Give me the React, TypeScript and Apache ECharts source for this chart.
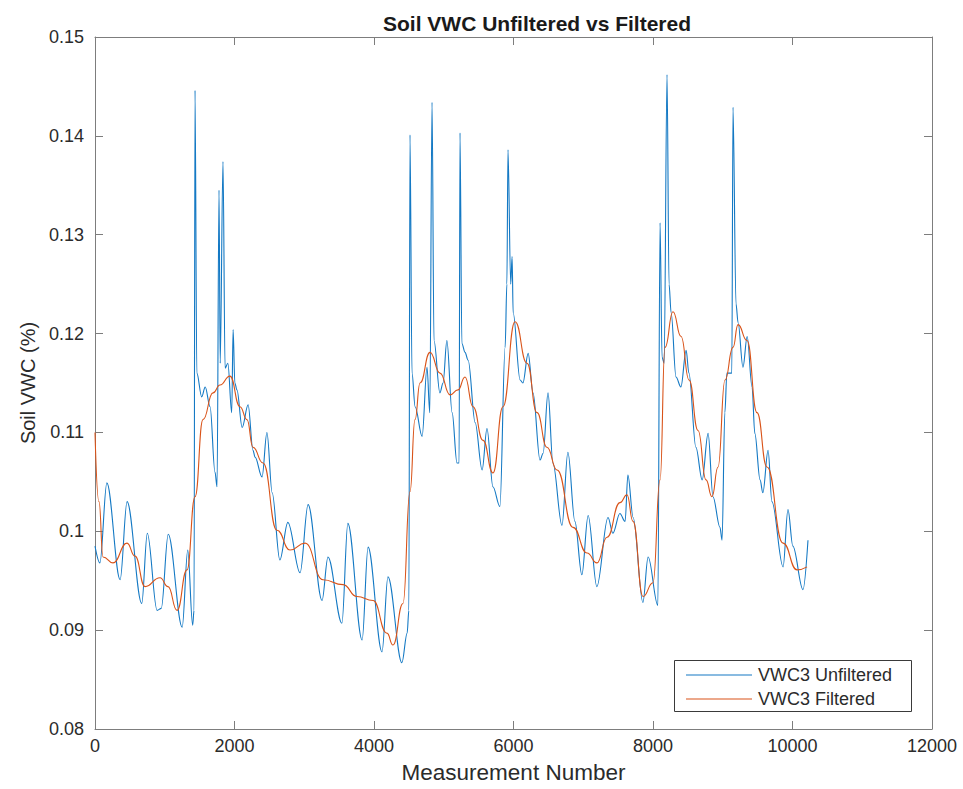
import { useEffect, useRef } from "react";
import * as echarts from "echarts";

// Soil volumetric water content, sensor VWC3: raw readings vs low-pass filtered
const unfiltered: [number, number][] = [
  [0, 0.0985], [70, 0.0968], [170, 0.1049], [360, 0.0951], [460, 0.103],
  [670, 0.0927], [750, 0.0998], [890, 0.092], [950, 0.0922], [1050, 0.0997],
  [1250, 0.0903], [1330, 0.0981], [1400, 0.0905], [1420, 0.092], [1434, 0.1446],
  [1460, 0.116], [1530, 0.1136], [1580, 0.1146], [1650, 0.1126], [1720, 0.106],
  [1750, 0.1045], [1778, 0.1345], [1795, 0.117], [1835, 0.1374], [1865, 0.1165],
  [1905, 0.117], [1960, 0.112], [1980, 0.1204], [2005, 0.115], [2035, 0.1143],
  [2110, 0.1105], [2195, 0.1128], [2265, 0.1082], [2295, 0.1075], [2395, 0.1055],
  [2465, 0.11], [2540, 0.1039], [2650, 0.0971], [2765, 0.1009], [2940, 0.0958],
  [3055, 0.1027], [3255, 0.093], [3340, 0.0974], [3540, 0.0907], [3625, 0.1008],
  [3830, 0.089], [3915, 0.0984], [4115, 0.0878], [4200, 0.0954], [4400, 0.0867],
  [4475, 0.0897], [4500, 0.092], [4516, 0.1401], [4545, 0.116], [4590, 0.1126],
  [4690, 0.1096], [4760, 0.1166], [4800, 0.112], [4832, 0.1434], [4860, 0.1193],
  [4945, 0.114], [4990, 0.115], [5045, 0.1193], [5120, 0.112], [5190, 0.1069],
  [5220, 0.1069], [5233, 0.1403], [5260, 0.119], [5305, 0.1181], [5350, 0.1173],
  [5450, 0.111], [5550, 0.1062], [5620, 0.1104], [5705, 0.1045], [5805, 0.1025],
  [5880, 0.1186], [5905, 0.125], [5921, 0.1386], [5960, 0.125], [5980, 0.1278],
  [5995, 0.1221], [6095, 0.1153], [6135, 0.115], [6210, 0.118], [6280, 0.114],
  [6380, 0.1072], [6425, 0.1079], [6495, 0.114], [6565, 0.1069], [6695, 0.1006],
  [6780, 0.108], [6880, 0.101], [6980, 0.0956], [7070, 0.1016], [7195, 0.0944],
  [7355, 0.1014], [7425, 0.0998], [7525, 0.1018], [7600, 0.101], [7640, 0.1057],
  [7715, 0.1014], [7855, 0.0928], [7930, 0.0974], [8070, 0.0925], [8101, 0.1312],
  [8130, 0.1176], [8160, 0.117], [8201, 0.1462], [8230, 0.125], [8260, 0.1221],
  [8330, 0.1156], [8400, 0.1146], [8475, 0.1183], [8515, 0.116], [8615, 0.1085],
  [8705, 0.1052], [8790, 0.1099], [8860, 0.1035], [8960, 0.1004], [8990, 0.0991],
  [9030, 0.112], [9060, 0.116], [9130, 0.116], [9147, 0.1429], [9190, 0.123],
  [9220, 0.1211], [9290, 0.1166], [9350, 0.1197], [9420, 0.1146], [9460, 0.1099],
  [9535, 0.1052], [9575, 0.1039], [9650, 0.1082], [9705, 0.103], [9865, 0.0964],
  [9935, 0.1022], [10005, 0.0985], [10150, 0.0941], [10222, 0.0991],
];

const filtered: [number, number][] = [
  [0, 0.11], [57, 0.103], [115, 0.0974], [258, 0.0968], [459, 0.0988],
  [573, 0.0975], [717, 0.0944], [932, 0.0953], [1047, 0.0944], [1176, 0.092],
  [1319, 0.0961], [1434, 0.1035], [1548, 0.1113], [1692, 0.114], [1792, 0.1148],
  [1935, 0.1157], [2079, 0.1126], [2179, 0.1113], [2265, 0.1085], [2409, 0.1069],
  [2609, 0.1001], [2796, 0.0981], [3011, 0.0988], [3269, 0.0951], [3556, 0.0946],
  [3756, 0.0934], [3986, 0.093], [4186, 0.0897], [4272, 0.0885], [4416, 0.0927],
  [4516, 0.104], [4588, 0.1113], [4660, 0.115], [4803, 0.1181], [4946, 0.116],
  [5090, 0.1138], [5204, 0.1143], [5305, 0.1156], [5419, 0.1126], [5563, 0.1092],
  [5706, 0.1059], [5849, 0.1126], [6022, 0.1212], [6194, 0.117], [6337, 0.112],
  [6480, 0.1085], [6624, 0.1062], [6853, 0.1004], [7054, 0.0978], [7197, 0.0968],
  [7341, 0.0994], [7527, 0.1029], [7627, 0.1037], [7713, 0.101], [7857, 0.0934],
  [8000, 0.0948], [8101, 0.1052], [8172, 0.1186], [8287, 0.1222], [8402, 0.1197],
  [8517, 0.1153], [8646, 0.1102], [8760, 0.1052], [8846, 0.1035], [8932, 0.1065],
  [9032, 0.1153], [9147, 0.1186], [9219, 0.1209], [9348, 0.1193], [9491, 0.112],
  [9634, 0.1065], [9864, 0.0988], [10065, 0.0961], [10208, 0.0964],
];

const seriesNames = ["VWC3 Unfiltered", "VWC3 Filtered"];
const xTicks = [0, 2000, 4000, 6000, 8000, 10000, 12000];
const yTicks = [0.08, 0.09, 0.1, 0.11, 0.12, 0.13, 0.14, 0.15];

const FONT = "'Liberation Sans', Arial, Helvetica, sans-serif";
const AXIS_GRAY = "#7d7d7d";
const TEXT = "#2b2b2b";
const BLUE = "#1479c4";
const ORANGE = "#D95319";

export default function App() {
  const ref = useRef<HTMLDivElement>(null);

  useEffect(() => {
    if (!ref.current) return;
    const chart = echarts.init(ref.current, undefined, { renderer: "svg" });

    const xMin = xTicks[0];
    const xMax = xTicks[xTicks.length - 1];
    const xStep = xTicks[1] - xTicks[0];
    const yMin = yTicks[0];
    const yMax = yTicks[yTicks.length - 1];
    const yStep = +(yTicks[1] - yTicks[0]).toFixed(4);

    const boxLine = { show: true, onZero: false, lineStyle: { color: AXIS_GRAY, width: 1 } };
    const inTick = { show: true, inside: true, length: 8, lineStyle: { color: AXIS_GRAY, width: 1 } };

    chart.setOption({
      animation: false,
      backgroundColor: "#ffffff",
      textStyle: { fontFamily: FONT },
      title: {
        text: "Soil VWC Unfiltered vs Filtered",
        left: 532,
        textAlign: "center",
        top: 8,
        textStyle: { fontFamily: FONT, fontSize: 21, fontWeight: "bold", color: "#1a1a1a" },
      },
      grid: { left: 95, right: 31, top: 37, bottom: 59, containLabel: false },
      legend: {
        data: seriesNames.map((name) => ({ name, icon: "rect" })),
        orient: "vertical",
        left: 686,
        top: 666,
        padding: 0,
        itemWidth: 66,
        itemHeight: 1.2,
        itemGap: 6,
        textStyle: { fontFamily: FONT, fontSize: 18, color: TEXT, padding: [0, 0, 0, 1] },
      },
      xAxis: [
        {
          type: "value",
          min: xMin,
          max: xMax,
          interval: xStep,
          name: "Measurement Number",
          nameLocation: "middle",
          nameGap: 32,
          nameTextStyle: { fontFamily: FONT, fontSize: 22.5, color: TEXT },
          axisLine: boxLine,
          axisTick: inTick,
          axisLabel: {
            margin: 8,
            fontFamily: FONT,
            fontSize: 18,
            color: TEXT,
            formatter: (v: number) => String(v),
          },
          splitLine: { show: false },
        },
        {
          type: "value",
          position: "top",
          min: xMin,
          max: xMax,
          interval: xStep,
          axisLine: boxLine,
          axisTick: inTick,
          axisLabel: { show: false },
          splitLine: { show: false },
        },
      ],
      yAxis: [
        {
          type: "value",
          min: yMin,
          max: yMax,
          interval: yStep,
          name: "Soil VWC (%)",
          nameLocation: "middle",
          nameGap: 45,
          nameTextStyle: { fontFamily: FONT, fontSize: 20, color: TEXT },
          axisLine: boxLine,
          axisTick: inTick,
          axisLabel: {
            margin: 11,
            fontFamily: FONT,
            fontSize: 18,
            color: TEXT,
            formatter: (v: number) => String(+v.toFixed(2)),
          },
          splitLine: { show: false },
        },
        {
          type: "value",
          position: "right",
          min: yMin,
          max: yMax,
          interval: yStep,
          axisLine: boxLine,
          axisTick: inTick,
          axisLabel: { show: false },
          splitLine: { show: false },
        },
      ],
      graphic: [
        {
          type: "rect",
          left: 674,
          top: 660,
          shape: { x: 0, y: 0, width: 237, height: 51 },
          style: { fill: "rgba(255,255,255,0)", stroke: "#3a3a3a", lineWidth: 1 },
          z: 5,
        },
      ],
      series: [
        {
          name: seriesNames[0],
          type: "line",
          data: unfiltered,
          showSymbol: false,
          symbol: "none",
          smooth: 0.35,
          smoothMonotone: "x",
          lineStyle: { color: BLUE, width: 1.1 },
          itemStyle: { color: BLUE },
          z: 2,
        },
        {
          name: seriesNames[1],
          type: "line",
          data: filtered,
          showSymbol: false,
          symbol: "none",
          smooth: 0.5,
          smoothMonotone: "x",
          lineStyle: { color: ORANGE, width: 1.1 },
          itemStyle: { color: ORANGE },
          z: 3,
        },
      ],
    });

    return () => chart.dispose();
  }, []);

  return (
    <div
      ref={ref}
      style={{ position: "absolute", left: 0, top: 0, width: 963, height: 789, background: "#fff" }}
    />
  );
}
